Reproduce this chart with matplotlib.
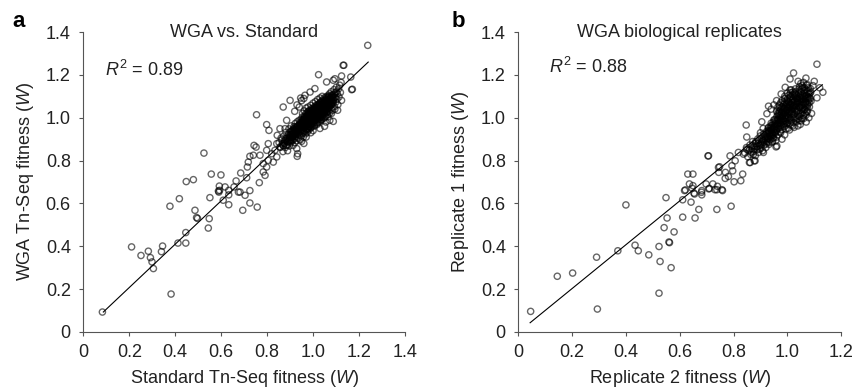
import numpy as np
import matplotlib.pyplot as plt

plt.rcParams['font.family'] = ['Liberation Sans', 'DejaVu Sans']
plt.rcParams['mathtext.fontset'] = 'custom'
plt.rcParams['mathtext.rm'] = 'Liberation Sans'
plt.rcParams['mathtext.it'] = 'Liberation Sans:italic'

# panel a : WGA vs. Standard (x = standard, y = WGA)
a_scatter = [
    (0.083, 0.093), (0.210, 0.397), (0.251, 0.357), (0.283, 0.377), (0.292, 0.347),
    (0.299, 0.327), (0.305, 0.296), (0.345, 0.401), (0.340, 0.375), (0.382, 0.177),
    (0.412, 0.415), (0.446, 0.464), (0.446, 0.415), (0.377, 0.587), (0.418, 0.622),
    (0.486, 0.568), (0.493, 0.534), (0.497, 0.530), (0.548, 0.529), (0.544, 0.485),
    (0.551, 0.627), (0.590, 0.653), (0.592, 0.681), (0.593, 0.661), (0.588, 0.658),
    (0.633, 0.594), (0.633, 0.640), (0.609, 0.615), (0.694, 0.568), (0.725, 0.602),
    (0.757, 0.583), (0.704, 0.638), (0.725, 0.660), (0.675, 0.653), (0.525, 0.835),
    (0.448, 0.702), (0.479, 0.711), (0.557, 0.737), (0.599, 0.733), (0.617, 0.677),
    (0.633, 0.661), (0.665, 0.705), (0.682, 0.653), (0.656, 0.677), (0.685, 0.742),
    (0.711, 0.720), (0.714, 0.770), (0.718, 0.793), (0.725, 0.820), (0.740, 0.825),
    (0.769, 0.825), (0.766, 0.697), (0.783, 0.747), (0.791, 0.731), (0.798, 0.770),
    (0.783, 0.786), (0.805, 0.801), (0.743, 0.871), (0.752, 0.863), (0.798, 0.848),
    (0.820, 0.832), (0.834, 0.848), (0.842, 0.817), (0.827, 0.793), (0.856, 0.863),
    (0.805, 0.879), (0.842, 0.879), (0.870, 0.871), (0.754, 1.014), (0.798, 0.968),
    (0.808, 0.941), (0.856, 0.949), (0.844, 0.918), (0.885, 0.988), (0.878, 0.949),
    (0.933, 0.832), (0.929, 0.856), (0.900, 0.887), (0.931, 0.820), (0.965, 1.105),
    (0.987, 1.120), (1.008, 1.136), (1.059, 1.167), (1.088, 1.175), (1.095, 1.182),
    (1.124, 1.195), (1.164, 1.190), (1.171, 1.133), (1.134, 1.245), (1.024, 1.201),
    (1.238, 1.338), (1.088, 0.983), (1.107, 1.035), (1.056, 0.980), (0.900, 1.081),
    (0.870, 1.050), (0.946, 1.092), (1.168, 1.131), (1.131, 1.245), (1.073, 0.988),
    (1.050, 0.960), (1.030, 0.950), (0.990, 0.930), (0.970, 0.910), (0.950, 0.890),
    (0.960, 0.880), (1.000, 0.940), (0.930, 1.060), (0.950, 1.080), (0.920, 1.030),
    (0.960, 1.090), (0.940, 1.050),
]

a_core = [
    (0.852, 0.884), (0.858, 0.862), (0.861, 0.905), (0.866, 0.878), (0.869, 0.842),
    (0.873, 0.915), (0.876, 0.893), (0.879, 0.861), (0.882, 0.932), (0.884, 0.871),
    (0.887, 0.905), (0.889, 0.846), (0.891, 0.921), (0.893, 0.889), (0.895, 0.948),
    (0.897, 0.868), (0.899, 0.907), (0.901, 0.934), (0.903, 0.882), (0.905, 0.962),
    (0.907, 0.915), (0.909, 0.897), (0.911, 0.941), (0.913, 0.871), (0.915, 0.926),
    (0.917, 0.958), (0.919, 0.902), (0.921, 0.884), (0.922, 0.973), (0.924, 0.938),
    (0.926, 0.912), (0.928, 0.951), (0.929, 0.893), (0.931, 0.981), (0.933, 0.927),
    (0.934, 0.962), (0.936, 0.905), (0.938, 0.944), (0.939, 0.988), (0.941, 0.921),
    (0.942, 0.965), (0.944, 0.897), (0.945, 0.952), (0.947, 0.936), (0.948, 0.992),
    (0.949, 0.915), (0.951, 0.971), (0.952, 0.945), (0.953, 1.003), (0.955, 0.928),
    (0.956, 0.962), (0.957, 0.984), (0.958, 0.911), (0.960, 0.951), (0.961, 0.997),
    (0.962, 0.938), (0.963, 0.975), (0.965, 1.012), (0.966, 0.956), (0.967, 0.925),
    (0.968, 0.989), (0.969, 0.966), (0.970, 1.021), (0.971, 0.944), (0.972, 0.978),
    (0.973, 1.001), (0.974, 0.932), (0.976, 0.962), (0.977, 0.991), (0.978, 1.028),
    (0.979, 0.951), (0.980, 1.008), (0.981, 0.973), (0.982, 0.943), (0.983, 1.016),
    (0.984, 0.985), (0.985, 0.959), (0.986, 1.035), (0.987, 0.998), (0.988, 0.969),
    (0.989, 1.021), (0.990, 0.952), (0.991, 1.006), (0.992, 0.983), (0.993, 1.042),
    (0.994, 0.971), (0.995, 1.012), (0.996, 0.994), (0.997, 0.961), (0.998, 1.029),
    (0.999, 0.986), (1.001, 1.018), (1.002, 0.973), (1.003, 1.047), (1.004, 0.998),
    (1.005, 1.031), (1.006, 0.961), (1.007, 1.009), (1.008, 0.985), (1.009, 1.055),
    (1.010, 1.022), (1.011, 0.992), (1.012, 1.038), (1.013, 0.977), (1.014, 1.013),
    (1.015, 1.049), (1.016, 1.001), (1.017, 0.968), (1.018, 1.027), (1.019, 1.061),
    (1.020, 0.989), (1.021, 1.036), (1.022, 1.012), (1.023, 0.981), (1.024, 1.052),
    (1.026, 1.019), (1.027, 0.995), (1.028, 1.068), (1.029, 1.041), (1.030, 1.006),
    (1.031, 0.984), (1.032, 1.057), (1.033, 1.027), (1.034, 1.075), (1.035, 1.002),
    (1.036, 1.044), (1.037, 1.016), (1.038, 0.991), (1.039, 1.063), (1.040, 1.033),
    (1.041, 1.081), (1.042, 1.009), (1.043, 1.052), (1.044, 1.024), (1.045, 0.998),
    (1.046, 1.071), (1.047, 1.039), (1.048, 1.092), (1.049, 1.016), (1.051, 1.058),
    (1.052, 1.031), (1.053, 1.083), (1.054, 1.006), (1.056, 1.047), (1.057, 1.098),
    (1.058, 1.022), (1.059, 1.068), (1.061, 1.039), (1.062, 1.089), (1.063, 1.014),
    (1.065, 1.056), (1.066, 1.105), (1.067, 1.031), (1.069, 1.077), (1.070, 1.048),
    (1.072, 1.112), (1.073, 1.023), (1.075, 1.066), (1.076, 1.094), (1.078, 1.041),
    (1.079, 1.121), (1.081, 1.062), (1.083, 1.088), (1.085, 1.035), (1.087, 1.108),
    (1.089, 1.071), (1.091, 1.131), (1.093, 1.052), (1.095, 1.094), (1.097, 1.118),
    (1.099, 1.073), (1.101, 1.142), (1.104, 1.086), (1.106, 1.112), (1.108, 1.061),
    (1.111, 1.135), (1.113, 1.097), (1.116, 1.152), (1.119, 1.118), (1.122, 1.165),
    (1.124, 1.081),
    (0.943, 0.978), (0.947, 0.958), (0.953, 0.985), (0.957, 0.941), (0.962, 1.004),
    (0.964, 0.968), (0.968, 0.947), (0.972, 1.008), (0.975, 0.983), (0.978, 0.961),
    (0.981, 1.031), (0.983, 0.995), (0.986, 0.977), (0.988, 1.013), (0.991, 0.967),
    (0.993, 1.024), (0.996, 1.004), (0.998, 0.978), (1.000, 1.037), (1.003, 1.011),
    (1.005, 0.986), (1.008, 1.042), (1.010, 1.003), (1.013, 1.025), (1.015, 0.993),
    (1.018, 1.046), (1.020, 1.015), (1.022, 0.999), (1.025, 1.035), (1.027, 1.058),
    (1.030, 1.024), (1.033, 1.004), (1.035, 1.061), (1.038, 1.039), (1.041, 1.021),
    (1.044, 1.067), (1.047, 1.048), (1.050, 1.027), (1.053, 1.072), (1.056, 1.053),
    (1.060, 1.083), (1.064, 1.042), (1.068, 1.097), (1.071, 1.061), (1.075, 1.081),
    (1.080, 1.103), (1.084, 1.072), (0.935, 0.953), (0.930, 0.937), (0.925, 0.922),
    (0.920, 0.941), (0.915, 0.912), (0.910, 0.925), (0.905, 0.893), (0.900, 0.916),
    (0.895, 0.902), (0.888, 0.889), (0.880, 0.902), (0.872, 0.881), (0.865, 0.897),
    (0.902, 0.921), (0.906, 0.938), (0.911, 0.909), (0.914, 0.947), (0.918, 0.924),
    (0.923, 0.955), (0.927, 0.931), (0.932, 0.948), (0.937, 0.929), (0.941, 0.969),
    (0.944, 0.946), (0.949, 0.976), (0.952, 0.958), (0.956, 0.973), (0.959, 0.991),
    (0.963, 0.957), (0.966, 0.984), (0.970, 0.998), (0.973, 0.968), (0.976, 1.012),
    (0.979, 0.989), (0.982, 1.003), (0.985, 1.021), (0.988, 0.992), (0.991, 1.028),
    (0.994, 1.008), (0.997, 1.017), (0.999, 0.995), (1.002, 1.026), (1.005, 1.006),
    (1.007, 1.033), (1.010, 1.017), (1.013, 1.041), (1.016, 1.022), (1.019, 1.005),
    (1.022, 1.047), (1.025, 1.024), (1.028, 1.035), (1.031, 1.016), (1.034, 1.049),
    (1.037, 1.027), (1.040, 1.058), (1.043, 1.038), (1.046, 1.021), (1.049, 1.062),
    (1.052, 1.044), (1.055, 1.076), (1.058, 1.057), (1.061, 1.027), (1.064, 1.081),
    (1.067, 1.052), (1.070, 1.069), (1.074, 1.091), (1.077, 1.058), (1.081, 1.079),
    (1.085, 1.101), (1.089, 1.086), (1.093, 1.109), (1.097, 1.096), (1.102, 1.121),
    (0.954, 1.020), (0.962, 1.032), (0.970, 1.045), (0.978, 1.050), (0.990, 1.058),
    (1.000, 1.068), (1.010, 1.075), (1.020, 1.085), (1.030, 1.092), (1.040, 1.100),
    (0.960, 0.930), (0.975, 0.945), (0.990, 0.955), (1.005, 0.965), (1.020, 0.975),
    (1.035, 0.990), (1.050, 1.000), (1.065, 1.005), (1.080, 1.020), (1.095, 1.040),
    (0.915, 0.935), (0.920, 0.918), (0.926, 0.944), (0.930, 0.960), (0.935, 0.935),
    (0.940, 0.955), (0.945, 0.972), (0.950, 0.948), (0.955, 0.990), (0.958, 0.967),
    (0.963, 0.985), (0.967, 1.003), (0.970, 0.978), (0.974, 0.990), (0.977, 1.018),
    (0.980, 0.995), (0.984, 1.008), (0.987, 1.028), (0.990, 0.998), (0.993, 1.013),
    (0.996, 1.035), (1.000, 1.010), (1.003, 1.022), (1.006, 1.045), (1.009, 1.012),
    (1.012, 1.030), (1.015, 1.055), (1.018, 1.018), (1.021, 1.040), (1.024, 1.063),
    (1.027, 1.028), (1.030, 1.050), (1.033, 1.070), (1.036, 1.037), (1.039, 1.053),
    (1.042, 1.075), (1.045, 1.046), (1.048, 1.065), (1.051, 1.085), (1.054, 1.050),
    (1.057, 1.070), (1.060, 1.095), (1.063, 1.062), (1.066, 1.080), (1.070, 1.100),
    (1.073, 1.075), (1.076, 1.088), (1.080, 1.065), (1.083, 1.095), (1.087, 1.080),
    (0.870, 0.870), (0.876, 0.880), (0.882, 0.895), (0.888, 0.872), (0.894, 0.918),
    (0.898, 0.895), (0.904, 0.906), (0.908, 0.932), (0.912, 0.894), (0.918, 0.948),
]

# panel b : replicate 2 (x) vs replicate 1 (y)
b_scatter = [
    (0.046, 0.096), (0.145, 0.260), (0.202, 0.275), (0.291, 0.349), (0.294, 0.107),
    (0.370, 0.379), (0.434, 0.405), (0.446, 0.379), (0.485, 0.360), (0.523, 0.399),
    (0.527, 0.329), (0.523, 0.181), (0.560, 0.420), (0.562, 0.417), (0.568, 0.300),
    (0.542, 0.487), (0.579, 0.467), (0.400, 0.593), (0.549, 0.627), (0.553, 0.532),
    (0.611, 0.617), (0.642, 0.606), (0.611, 0.536), (0.657, 0.532), (0.671, 0.572),
    (0.738, 0.572), (0.791, 0.587), (0.655, 0.644), (0.682, 0.640), (0.682, 0.660),
    (0.618, 0.660), (0.738, 0.664), (0.759, 0.660), (0.710, 0.670), (0.649, 0.737),
    (0.636, 0.691), (0.621, 0.663), (0.646, 0.671), (0.649, 0.683), (0.653, 0.648),
    (0.681, 0.652), (0.698, 0.691), (0.708, 0.668), (0.723, 0.691), (0.731, 0.664),
    (0.757, 0.664), (0.740, 0.680), (0.705, 0.822), (0.748, 0.771), (0.745, 0.745),
    (0.770, 0.745), (0.769, 0.717), (0.781, 0.726), (0.802, 0.701), (0.827, 0.706),
    (0.834, 0.737), (0.797, 0.752), (0.794, 0.776), (0.787, 0.822), (0.806, 0.799),
    (0.818, 0.838), (0.837, 0.830), (0.862, 0.791), (0.880, 0.799), (0.849, 0.853),
    (0.874, 0.830), (0.911, 0.838), (0.961, 0.868), (0.630, 0.737), (0.744, 0.768),
    (1.110, 1.250), (1.023, 1.209), (1.010, 1.181), (1.069, 1.185), (1.075, 1.154),
    (1.132, 1.119), (1.110, 1.093), (1.085, 1.088), (0.992, 1.142), (0.977, 1.111),
    (0.930, 1.054), (0.924, 1.019), (0.905, 0.981), (0.847, 0.966), (0.849, 0.910),
    (0.958, 0.864), (0.877, 0.799), (0.859, 0.791), (0.707, 0.822), (1.100, 1.170),
    (1.095, 1.150), (1.120, 1.140), (1.040, 1.170), (1.050, 1.160), (1.060, 1.165),
    (0.960, 1.080), (0.950, 1.060), (0.940, 1.040), (0.910, 0.950), (0.900, 0.930),
    (0.980, 0.900), (0.990, 0.920), (1.070, 0.980), (1.080, 1.000), (1.090, 1.020),
]

b_core = [
    (0.842, 0.836), (0.848, 0.861), (0.853, 0.818), (0.857, 0.848), (0.861, 0.873),
    (0.864, 0.829), (0.868, 0.856), (0.871, 0.889), (0.874, 0.842), (0.877, 0.867),
    (0.881, 0.823), (0.884, 0.881), (0.887, 0.852), (0.890, 0.901), (0.893, 0.838),
    (0.896, 0.872), (0.899, 0.915), (0.902, 0.858), (0.905, 0.888), (0.908, 0.846),
    (0.911, 0.924), (0.914, 0.873), (0.917, 0.902), (0.920, 0.861), (0.922, 0.935),
    (0.925, 0.889), (0.927, 0.912), (0.929, 0.951), (0.932, 0.876), (0.934, 0.926),
    (0.936, 0.898), (0.938, 0.962), (0.941, 0.915), (0.943, 0.885), (0.945, 0.945),
    (0.947, 0.978), (0.949, 0.906), (0.951, 0.931), (0.953, 0.991), (0.955, 0.958),
    (0.957, 0.893), (0.959, 0.942), (0.961, 1.006), (0.963, 0.971), (0.965, 0.921),
    (0.967, 0.952), (0.969, 1.021), (0.971, 0.988), (0.973, 0.935), (0.975, 1.037),
    (0.977, 0.967), (0.979, 1.004), (0.981, 0.946), (0.983, 1.052), (0.985, 0.984),
    (0.987, 1.019), (0.989, 0.959), (0.991, 1.066), (0.993, 0.998), (0.995, 1.035),
    (0.997, 0.972), (0.999, 1.081), (1.001, 1.012), (1.003, 0.951), (1.005, 1.049),
    (1.007, 0.987), (1.009, 1.094), (1.011, 1.027), (1.013, 0.966), (1.015, 1.062),
    (1.017, 1.003), (1.019, 1.108), (1.021, 1.041), (1.023, 0.978), (1.025, 1.077),
    (1.027, 1.018), (1.029, 1.121), (1.031, 1.055), (1.033, 0.993), (1.035, 1.091),
    (1.037, 1.032), (1.039, 0.962), (1.041, 1.068), (1.043, 1.134), (1.045, 1.006),
    (1.047, 1.047), (1.049, 1.104), (1.051, 0.985), (1.053, 1.082), (1.055, 1.022),
    (1.057, 1.141), (1.059, 1.061), (1.061, 0.997), (1.063, 1.115), (1.065, 1.039),
    (1.067, 1.088), (1.069, 1.012), (1.071, 1.152), (1.073, 1.066), (1.075, 1.031),
    (1.077, 1.124), (1.079, 1.095), (1.082, 1.051), (1.085, 1.137), (1.088, 1.078),
    (0.962, 0.987), (0.966, 1.013), (0.970, 0.962), (0.974, 1.002), (0.978, 1.027),
    (0.982, 0.978), (0.986, 1.043), (0.990, 1.008), (0.994, 0.981), (0.998, 1.054),
    (1.002, 1.031), (1.006, 1.071), (1.010, 0.996), (1.014, 1.038), (1.018, 1.083),
    (1.022, 1.015), (1.026, 1.056), (1.030, 1.098), (1.034, 1.029), (1.038, 1.071),
    (1.042, 1.112), (1.046, 1.049), (1.050, 1.021), (1.054, 1.096), (1.058, 1.044),
    (1.062, 1.128), (1.066, 1.067), (1.070, 1.105), (1.074, 1.049), (1.078, 1.083),
    (0.955, 0.972), (0.950, 0.958), (0.945, 0.925), (0.940, 0.943), (0.935, 0.917),
    (0.930, 0.930), (0.925, 0.905), (0.972, 1.046), (0.985, 1.062), (1.000, 1.088),
    (1.012, 1.117), (1.025, 1.102), (1.040, 1.089), (1.020, 0.962), (1.035, 0.981),
    (1.048, 0.969), (1.060, 1.012), (1.000, 0.975), (0.985, 0.962), (1.008, 0.943),
    (0.886, 0.864), (0.892, 0.881), (0.897, 0.853), (0.903, 0.872), (0.908, 0.896),
    (0.913, 0.884), (0.918, 0.910), (0.921, 0.878), (0.926, 0.924), (0.931, 0.904),
    (0.935, 0.938), (0.939, 0.921), (0.942, 0.955), (0.946, 0.905), (0.949, 0.942),
    (0.953, 0.971), (0.956, 0.928), (0.959, 0.962), (0.962, 0.948), (0.965, 0.995),
    (0.968, 0.975), (0.971, 1.012), (0.974, 0.955), (0.977, 0.989), (0.980, 1.025),
    (0.983, 1.008), (0.986, 0.969), (0.989, 1.041), (0.992, 1.022), (0.995, 0.992),
    (0.998, 1.066), (1.001, 1.045), (1.004, 1.003), (1.007, 1.028), (1.010, 1.061),
    (1.013, 1.085), (1.016, 1.019), (1.019, 1.049), (1.022, 1.072), (1.025, 0.997),
    (1.028, 1.036), (1.031, 1.110), (1.034, 1.063), (1.037, 1.086), (1.040, 1.012),
    (1.043, 1.049), (1.046, 1.097), (1.049, 1.075), (1.052, 1.121), (1.055, 1.058),
    (1.058, 1.088), (1.061, 1.035), (1.064, 1.101), (1.067, 1.072), (1.070, 1.131),
    (1.073, 1.088), (1.076, 1.061), (1.080, 1.112), (1.084, 1.093), (1.087, 1.119),
    (0.960, 1.030), (0.965, 1.050), (0.975, 1.070), (0.990, 1.090), (1.005, 1.105),
    (1.015, 1.130), (1.030, 1.135), (1.045, 1.145), (1.055, 1.150), (1.010, 0.975),
    (1.025, 0.955), (1.045, 0.988), (1.055, 0.998), (1.065, 1.018), (1.072, 1.028),
    (0.995, 0.948), (0.975, 0.930), (0.960, 0.910), (0.945, 0.890), (0.930, 0.885),
    (0.860, 0.852), (0.866, 0.838), (0.872, 0.870), (0.878, 0.852), (0.882, 0.888),
    (0.888, 0.868), (0.894, 0.895), (0.900, 0.878), (0.905, 0.905), (0.910, 0.892),
    (0.915, 0.920), (0.920, 0.895), (0.924, 0.915), (0.928, 0.940), (0.933, 0.912),
    (0.937, 0.950), (0.941, 0.930), (0.944, 0.965), (0.948, 0.920), (0.952, 0.950),
    (0.955, 0.985), (0.958, 0.935), (0.961, 0.970), (0.964, 1.020), (0.967, 0.990),
    (0.970, 1.030), (0.973, 0.975), (0.976, 1.015), (0.979, 1.050), (0.982, 0.995),
    (0.985, 1.030), (0.988, 1.075), (0.991, 1.045), (0.994, 1.010), (0.997, 1.060),
    (1.000, 1.035), (1.003, 1.075), (1.006, 1.020), (1.009, 1.050), (1.012, 1.100),
    (1.015, 1.070), (1.018, 1.030), (1.021, 1.090), (1.024, 1.055), (1.027, 1.115),
    (1.030, 1.075), (1.033, 1.045), (1.036, 1.105), (1.039, 1.080), (1.042, 1.030),
    (1.045, 1.125), (1.048, 1.090), (1.051, 1.060), (1.054, 1.135), (1.057, 1.105),
    (1.060, 1.075), (1.063, 1.140), (1.066, 1.095), (1.069, 1.050), (1.072, 1.120),
    (1.075, 1.100), (1.078, 1.140), (1.081, 1.070), (1.084, 1.115), (0.970, 1.060),
    (0.980, 1.080), (0.990, 1.100), (1.000, 1.115), (1.010, 1.130), (1.020, 1.120),
    (0.990, 0.985), (1.000, 0.995), (1.015, 0.985), (1.030, 1.000), (1.040, 0.995),
    (1.055, 1.040), (1.065, 1.055), (0.950, 0.990), (0.940, 0.975), (0.930, 0.955),
]

# regression lines (slope, intercept, x start, x end)
fit_a = (1.012, 0.005, 0.087, 1.240)
fit_b = (1.023, -0.002, 0.044, 1.130)

panels = [
    dict(pts=a_scatter + a_core, fit=fit_a, xmax=1.4, title='WGA vs. Standard',
         r2='$R^2$ = 0.89', r2pos=(0.096, 1.223), letter='a',
         xlabel='Standard Tn-Seq fitness ($\\it{W}$)',
         ylabel='WGA Tn-Seq fitness ($\\it{W}$)',
         rect=[0.0978, 0.151, 0.3775, 0.767], letter_x=0.015),
    dict(pts=b_scatter + b_core, fit=fit_b, xmax=1.2, title='WGA biological replicates',
         r2='$R^2$ = 0.88', r2pos=(0.115, 1.237), letter='b',
         xlabel='Replicate 2 fitness ($\\it{W}$)',
         ylabel='Replicate 1 fitness ($\\it{W}$)',
         rect=[0.6083, 0.151, 0.3790, 0.767], letter_x=0.530),
]

fig = plt.figure(figsize=(8.52, 3.91), dpi=100)
txt = '#222222'
ax_col = '#555555'
fs = 13

for p in panels:
    ax = fig.add_axes(p['rect'])
    pts = np.array(p['pts'])
    ax.scatter(pts[:, 0], pts[:, 1], s=20, facecolors='none',
               edgecolors='black', alpha=0.6, linewidths=1.0, zorder=2)
    m, c, x0, x1 = p['fit']
    xs = np.array([x0, x1])
    ax.plot(xs, m * xs + c, color='black', lw=0.8, zorder=3)

    ax.set_xlim(0, p['xmax'])
    ax.set_ylim(0, 1.4)
    xt = np.arange(0, p['xmax'] + 0.01, 0.2)
    yt = np.arange(0, 1.41, 0.2)
    ax.set_xticks(xt)
    ax.set_yticks(yt)
    ax.set_xticklabels(['0'] + ['%.1f' % v for v in xt[1:]])
    ax.set_yticklabels(['0'] + ['%.1f' % v for v in yt[1:]])
    for s in ['top', 'right']:
        ax.spines[s].set_visible(False)
    for s in ['left', 'bottom']:
        ax.spines[s].set_color(ax_col)
        ax.spines[s].set_linewidth(0.8)
    ax.tick_params(direction='out', length=3, width=0.8, color=ax_col,
                   labelsize=fs, labelcolor=txt, pad=6)
    ax.set_xlabel(p['xlabel'], fontsize=fs, color=txt, labelpad=5)
    ax.set_ylabel(p['ylabel'], fontsize=fs, color=txt, labelpad=7)
    ax.text(0.5, 1.0, p['title'], transform=ax.transAxes, ha='center', va='center',
            fontsize=fs, color=txt)
    ax.text(p['r2pos'][0], p['r2pos'][1], p['r2'], ha='left', va='center',
            fontsize=fs, color=txt)
    fig.text(p['letter_x'], 0.945, p['letter'], fontsize=16, fontweight='bold',
             ha='left', va='center', color='black')

fig.savefig('out.png', dpi=100)
